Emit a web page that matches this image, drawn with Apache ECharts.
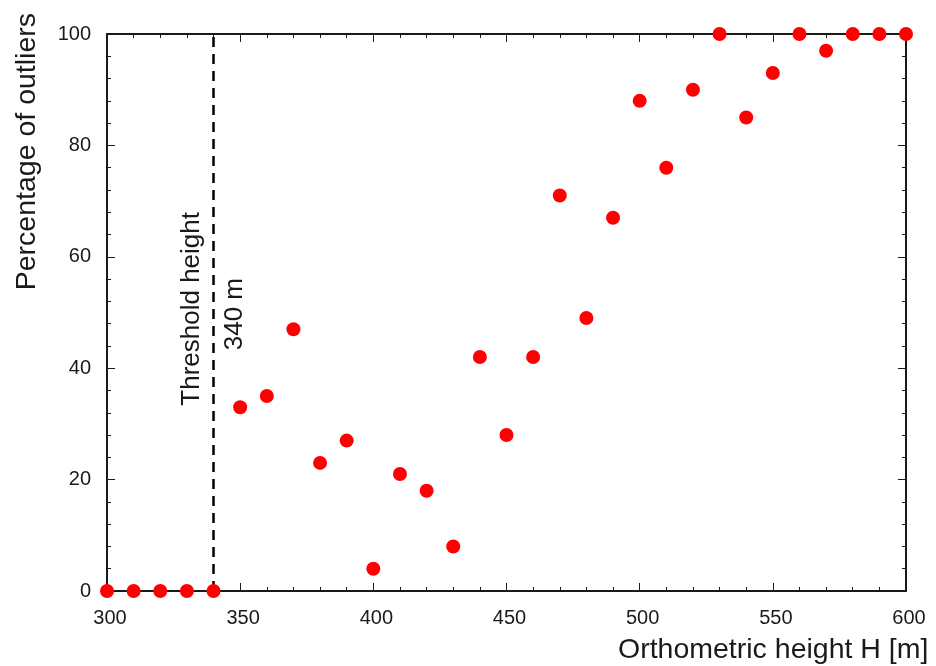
<!DOCTYPE html>
<html>
<head>
<meta charset="utf-8">
<script src="https://cdn.jsdelivr.net/npm/echarts@6/dist/echarts.min.js"></script>
<style>html,body{margin:0;padding:0;background:#fff}#c{width:936px;height:666px}</style>
</head>
<body>
<div id="c"></div>
<script>
const heights = [300,310,320,330,340,350,360,370,380,390,400,410,420,430,440,450,460,470,480,490,500,510,520,530,540,550,560,570,580,590,600];
const outliers = [0,0,0,0,0,33,35,47,23,27,4,21,18,8,42,28,42,71,49,67,88,76,90,100,85,93,100,97,100,100,100];
const thresholdHeight = 340;

const chart = echarts.init(document.getElementById('c'));
const font = 'Liberation Sans, Arial, sans-serif';
const axisCommon = {
  axisLine: {show: true, onZero: false, lineStyle: {color: '#1a1a1a', width: 2}},
  axisTick: {show: true, inside: true, length: 8, lineStyle: {color: '#1a1a1a', width: 1}},
  minorTick: {show: true, splitNumber: 5, length: 4, lineStyle: {color: '#1a1a1a', width: 1}},
  splitLine: {show: false}
};
chart.setOption({
  animation: false,
  grid: {left: 107, right: 30, top: 34, bottom: 75, containLabel: false},
  xAxis: [
    Object.assign({type: 'value', min: 300, max: 600, interval: 50, position: 'bottom',
      axisLabel: {color: '#1a1a1a', fontSize: 20, fontFamily: font, margin: 17, padding: [0, 0, 0, 6]}}, axisCommon),
    Object.assign({type: 'value', min: 300, max: 600, interval: 50, position: 'top',
      axisLabel: {show: false}}, axisCommon)
  ],
  yAxis: [
    Object.assign({type: 'value', min: 0, max: 100, interval: 20, position: 'left',
      axisLabel: {color: '#1a1a1a', fontSize: 20, fontFamily: font, margin: 16}}, axisCommon),
    Object.assign({type: 'value', min: 0, max: 100, interval: 20, position: 'right',
      axisLabel: {show: false}}, axisCommon)
  ],
  series: [{
    type: 'scatter',
    symbol: 'circle',
    symbolSize: 14,
    itemStyle: {color: '#ff0000', opacity: 1},
    data: heights.map((h, i) => [h, outliers[i]]),
    z: 5,
    markLine: {
      silent: true,
      symbol: 'none',
      label: {show: false},
      lineStyle: {color: '#000', type: [10, 7], width: 2.5},
      data: [{xAxis: thresholdHeight}],
      z: 3
    }
  }],
  graphic: [
    {type: 'text', left: 13, top: 13, rotation: Math.PI / 2,
      style: {text: 'Percentage of outliers', font: '28.5px ' + font, fill: '#1a1a1a'}, silent: true},
    {type: 'text', left: 618, top: 636,
      style: {text: 'Orthometric height H [m]', font: '28.5px ' + font, fill: '#1a1a1a'}, silent: true},
    {type: 'text', left: 179, top: 212, rotation: Math.PI / 2,
      style: {text: 'Threshold height', font: '26px ' + font, fill: '#1a1a1a'}, silent: true},
    {type: 'text', left: 222, top: 278, rotation: Math.PI / 2,
      style: {text: '340 m', font: '26px ' + font, fill: '#1a1a1a'}, silent: true}
  ]
});
</script>
</body>
</html>
